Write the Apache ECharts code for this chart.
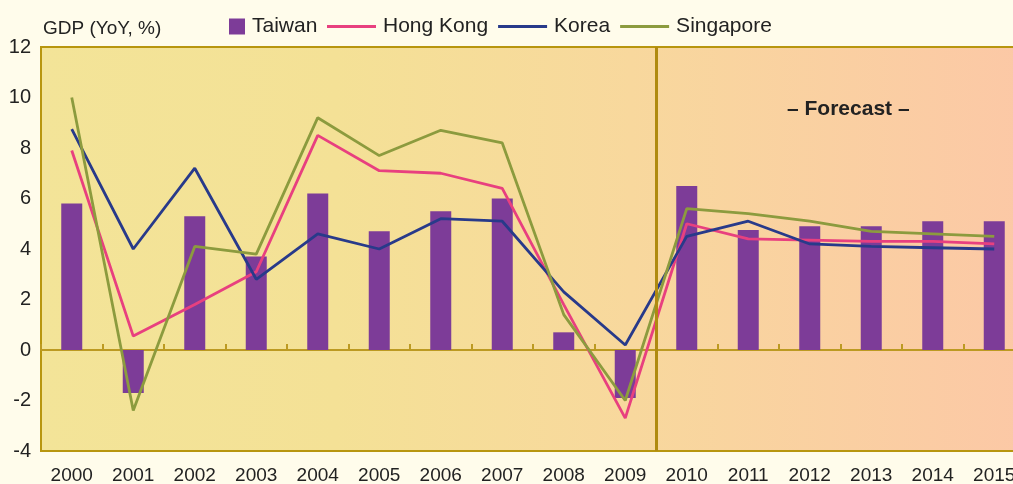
<!DOCTYPE html>
<html>
<head>
<meta charset="utf-8">
<script src="https://cdn.jsdelivr.net/npm/echarts@6/dist/echarts.min.js"></script>
<style>
html, body { margin: 0; padding: 0; background: #FFFCEB; }
#main { width: 1013px; height: 484px; }
</style>
</head>
<body>
<div id="main"></div>
<script>
// data
var years = ['2000', '2001', '2002', '2003', '2004', '2005', '2006', '2007',
  '2008', '2009', '2010', '2011', '2012', '2013', '2014', '2015'];
var taiwan = [5.8, -1.7, 5.3, 3.7, 6.2, 4.7, 5.5, 6.0, 0.7, -1.9, 6.5, 4.75, 4.9, 4.9, 5.1, 5.1];
var hongKong = [7.9, 0.55, 1.8, 3.1, 8.5, 7.1, 7.0, 6.4, 1.8, -2.7, 5.0, 4.4, 4.35, 4.3, 4.3, 4.2];
var korea = [8.75, 4.0, 7.2, 2.8, 4.6, 4.0, 5.2, 5.1, 2.3, 0.2, 4.5, 5.1, 4.2, 4.1, 4.05, 4.0];
var singapore = [10.0, -2.4, 4.1, 3.8, 9.2, 7.7, 8.7, 8.2, 1.4, -2.0, 5.6, 5.4, 5.1, 4.7, 4.6, 4.5];
var forecastStart = 9.5; // between 2009 and 2010 (category index units)

var font = 'Liberation Sans, Arial, sans-serif';
var gold = '#BC9A22';

var myChart = echarts.init(document.getElementById('main'));

var legendText = { fontSize: 21, color: '#222', fontFamily: font, padding: [0, 0, 0, 2] };

var option = {
  backgroundColor: '#FFFCEB',
  textStyle: { fontFamily: font },
  legend: [
    {
      data: [{ name: 'Taiwan', icon: 'rect' }],
      left: 229, top: 16, padding: 0,
      itemWidth: 16, itemHeight: 16,
      textStyle: legendText
    },
    {
      data: [
        { name: 'Hong Kong', icon: 'rect' },
        { name: 'Korea', icon: 'rect' },
        { name: 'Singapore', icon: 'rect' }
      ],
      left: 327, top: 16, padding: 0,
      itemWidth: 49, itemHeight: 3, itemGap: 10,
      textStyle: legendText
    }
  ],
  grid: {
    left: 41, right: -12, top: 47, bottom: 33,
    outerBoundsMode: 'none',
    containLabel: false,
    show: true,
    borderColor: '#B8960F',
    borderWidth: 2,
    backgroundColor: new echarts.graphic.LinearGradient(0, 0, 1, 0, [
      { offset: 0, color: '#F3E498' },
      { offset: 0.3, color: '#F4E196' },
      { offset: 0.6, color: '#F8D89D' },
      { offset: 1, color: '#FCC8A6' }
    ])
  },
  graphic: [
    {
      type: 'text', left: 787, top: 99,
      style: { text: '\u2013 Forecast \u2013', font: 'bold 21px ' + font, fill: '#222' }
    }
  ],
  xAxis: [
    {
      type: 'category',
      data: years,
      position: 'bottom',
      axisLine: { show: false, onZero: false },
      axisTick: { show: false },
      axisLabel: { fontSize: 19, color: '#222', margin: 15, interval: 0 }
    },
    {
      type: 'category',
      data: years,
      position: 'bottom',
      axisLine: { show: true, onZero: true, lineStyle: { color: gold, width: 2 } },
      axisTick: { show: true, inside: true, length: 6, lineStyle: { color: gold, width: 2 } },
      axisLabel: { show: false }
    },
    {
      // hidden index axis, used to place the forecast divider between categories
      type: 'value',
      show: false,
      min: -0.5, max: years.length - 0.5,
      axisLine: { onZero: false },
      splitLine: { show: false }
    }
  ],
  yAxis: {
    type: 'value',
    min: -4, max: 12, interval: 2,
    name: 'GDP (YoY, %)',
    nameLocation: 'end',
    nameGap: 9,
    nameTextStyle: { fontSize: 19, color: '#222', align: 'left', padding: [0, 0, 0, 2] },
    axisLine: { show: false, onZero: false },
    axisTick: { show: false },
    splitLine: { show: false },
    axisLabel: { fontSize: 20, color: '#222', margin: 10 }
  },
  series: [
    {
      name: 'Taiwan',
      type: 'bar',
      data: taiwan,
      barWidth: 21,
      itemStyle: { color: '#7D3C98' }
    },
    {
      name: 'Hong Kong',
      type: 'line',
      data: hongKong,
      symbol: 'none',
      lineStyle: { color: '#E8407F', width: 2.8 },
      itemStyle: { color: '#E8407F' }
    },
    {
      name: 'Korea',
      type: 'line',
      data: korea,
      symbol: 'none',
      lineStyle: { color: '#283A8A', width: 2.8 },
      itemStyle: { color: '#283A8A' }
    },
    {
      name: 'Singapore',
      type: 'line',
      data: singapore,
      symbol: 'none',
      lineStyle: { color: '#8C9B3E', width: 2.8 },
      itemStyle: { color: '#8C9B3E' }
    },
    {
      name: 'divider',
      type: 'line',
      xAxisIndex: 2,
      data: [],
      markLine: {
        silent: true,
        symbol: 'none',
        label: { show: false },
        lineStyle: { color: '#B08A10', width: 3, type: 'solid' },
        data: [{ xAxis: forecastStart }]
      }
    }
  ]
};

myChart.setOption(option);
</script>
</body>
</html>
